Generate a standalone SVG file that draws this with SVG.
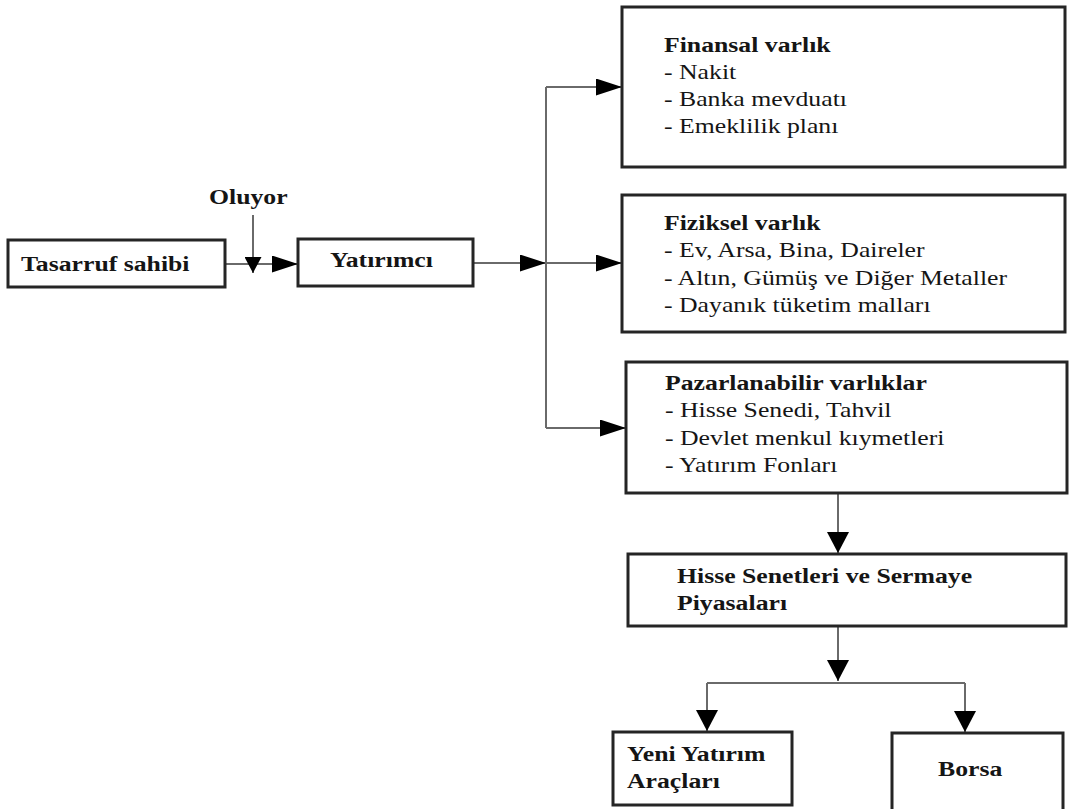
<svg xmlns="http://www.w3.org/2000/svg" width="1070" height="809" viewBox="0 0 1070 809">
<style>
.box{fill:#fff;stroke:#252525;stroke-width:3}
.t{font-family:"Liberation Serif","Times New Roman",serif;font-size:22px;fill:#151515}
.b{font-weight:bold}
.c{fill:none;stroke:#6a6a6a;stroke-width:2}
</style>
<defs>
<marker id="arrH" markerUnits="userSpaceOnUse" markerWidth="26" markerHeight="17" refX="26" refY="8.5" orient="auto"><path d="M0,0 L26,8.5 L0,17 z" fill="#000"/></marker>
<marker id="arrV" markerUnits="userSpaceOnUse" markerWidth="21" markerHeight="22" refX="21" refY="11" orient="auto"><path d="M0,0 L21,11 L0,22 z" fill="#000"/></marker>
<marker id="arrS" markerUnits="userSpaceOnUse" markerWidth="16" markerHeight="17" refX="16" refY="8.5" orient="auto"><path d="M0,0 L16,8.5 L0,17 z" fill="#000"/></marker>
</defs>
<rect width="1070" height="809" fill="#fff"/>
<g id="connectors">
<path class="c" d="M225,264 H298" marker-end="url(#arrH)"/>
<path class="c" d="M253,215 V273" marker-end="url(#arrS)"/>
<path class="c" d="M473,263 H546" marker-end="url(#arrH)"/>
<path class="c" d="M546,87 V428"/>
<path class="c" d="M546,87 H622" marker-end="url(#arrH)"/>
<path class="c" d="M546,263 H622" marker-end="url(#arrH)"/>
<path class="c" d="M546,428 H626" marker-end="url(#arrH)"/>
<path class="c" d="M838,494 V553" marker-end="url(#arrV)"/>
<path class="c" d="M838,627 V681" marker-end="url(#arrV)"/>
<path class="c" d="M707,683 H965"/>
<path class="c" d="M707,683 V731" marker-end="url(#arrV)"/>
<path class="c" d="M965,683 V732" marker-end="url(#arrV)"/>
</g>
<g id="oluyor">
<text class="t b" transform="translate(209,204) scale(1.17,1)">Oluyor</text>
</g>
<g id="tasarruf">
<rect class="box" x="8" y="240" width="217" height="47"/>
<text class="t b" transform="translate(21,271) scale(1.17,1)">Tasarruf sahibi</text>
</g>
<g id="yatirimci">
<rect class="box" x="298" y="239" width="175" height="47"/>
<text class="t b" transform="translate(330,267) scale(1.17,1)">Yatırımcı</text>
</g>
<g id="finansal">
<rect class="box" x="622" y="7" width="443" height="160"/>
<text class="t" transform="translate(664,52) scale(1.17,1)"><tspan x="0" class="b">Finansal varlık</tspan><tspan x="0" dy="27">- Nakit</tspan><tspan x="0" dy="27">- Banka mevduatı</tspan><tspan x="0" dy="27">- Emeklilik planı</tspan></text>
</g>
<g id="fiziksel">
<rect class="box" x="622" y="195" width="443" height="137"/>
<text class="t" transform="translate(664,230) scale(1.17,1)"><tspan x="0" class="b">Fiziksel varlık</tspan><tspan x="0" dy="27.3">- Ev, Arsa, Bina, Daireler</tspan><tspan x="0" dy="27.3">- Altın, Gümüş ve Diğer Metaller</tspan><tspan x="0" dy="27.3">- Dayanık tüketim malları</tspan></text>
</g>
<g id="pazarlanabilir">
<rect class="box" x="626" y="362" width="441" height="131"/>
<text class="t" transform="translate(665,390) scale(1.17,1)"><tspan x="0" class="b">Pazarlanabilir varlıklar</tspan><tspan x="0" dy="27.3">- Hisse Senedi, Tahvil</tspan><tspan x="0" dy="27.3">- Devlet menkul kıymetleri</tspan><tspan x="0" dy="27.3">- Yatırım Fonları</tspan></text>
</g>
<g id="hisse">
<rect class="box" x="628" y="554" width="438" height="72"/>
<text class="t b" transform="translate(677,583) scale(1.17,1)"><tspan x="0">Hisse Senetleri ve Sermaye</tspan><tspan x="0" dy="27">Piyasaları</tspan></text>
</g>
<g id="yeni">
<rect class="box" x="613" y="732" width="179" height="73"/>
<text class="t b" transform="translate(627,761) scale(1.17,1)"><tspan x="0">Yeni Yatırım</tspan><tspan x="0" dy="27">Araçları</tspan></text>
</g>
<g id="borsa">
<rect class="box" x="892" y="733" width="171" height="95"/>
<text class="t b" transform="translate(938,776) scale(1.17,1)">Borsa</text>
</g>
</svg>
